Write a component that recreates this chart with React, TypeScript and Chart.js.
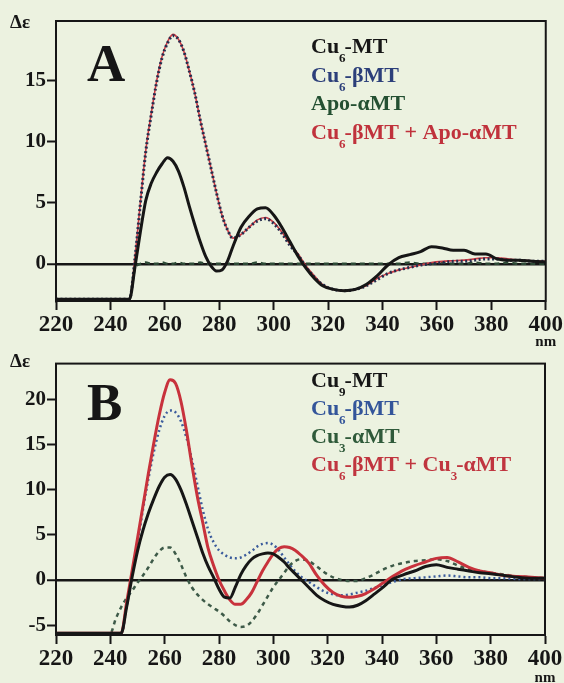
import React, { useEffect, useRef } from 'react';
import { Chart, registerables } from 'chart.js';

Chart.register(...registerables);

// ---------- Panel A data ----------
const WL_A = [220, 247, 249, 251, 253, 255, 257, 259, 261, 263, 265, 267, 269, 271, 273, 275, 277, 279, 281, 283, 285, 288, 291, 294, 297, 300, 303, 306, 309, 312, 315, 318, 322, 326, 330, 334, 338, 342, 346, 350, 354, 358, 362, 366, 370, 374, 378, 382, 386, 390, 395, 400];
const A_CU6_MT = [-2.9, -2.9, -0.3, 2.6, 5.2, 6.6, 7.5, 8.2, 8.7, 8.4, 7.6, 6.3, 4.7, 3.2, 1.8, 0.6, -0.2, -0.6, -0.5, 0.2, 1.4, 3.0, 3.9, 4.5, 4.6, 4.0, 3.0, 1.8, 0.6, -0.4, -1.2, -1.8, -2.1, -2.2, -2.1, -1.7, -1.0, -0.1, 0.5, 0.75, 1.0, 1.4, 1.3, 1.1, 1.1, 0.8, 0.8, 0.4, 0.3, 0.3, 0.2, 0.15];
const A_CU6_BETA = [-2.9, -2.9, 0.4, 4.9, 9.2, 12.2, 14.9, 16.9, 18.1, 18.7, 18.4, 17.4, 15.8, 14.0, 11.8, 9.8, 7.8, 5.8, 4.0, 2.8, 2.1, 2.4, 3.0, 3.5, 3.7, 3.3, 2.5, 1.5, 0.7, -0.3, -1.1, -1.7, -2.1, -2.2, -2.1, -1.8, -1.3, -0.8, -0.5, -0.3, -0.1, 0.0, 0.1, 0.2, 0.2, 0.3, 0.4, 0.4, 0.3, 0.3, 0.2, 0.2];
const A_APO_ALPHA = [-2.9, -2.9, -0.4, 0.0, 0.1, 0.0, 0.0, 0.1, 0.0, 0.0, 0.1, 0.0, 0.0, 0.0, 0.1, 0.0, 0.0, 0.0, 0.0, 0.0, 0.0, 0.0, 0.0, 0.1, 0.0, 0.0, 0.0, 0.0, 0.0, 0.0, 0.0, 0.0, 0.0, 0.0, 0.0, 0.0, 0.0, 0.0, 0.0, 0.1, 0.0, 0.0, 0.1, 0.0, 0.0, 0.1, 0.0, 0.0, 0.1, 0.0, 0.0, 0.0];
const A_SUM = [-2.9, -2.9, 0.5, 5.0, 9.3, 12.3, 15.0, 17.0, 18.2, 18.8, 18.4, 17.4, 15.8, 14.0, 11.8, 9.8, 7.8, 5.8, 4.0, 2.8, 2.1, 2.4, 3.0, 3.6, 3.8, 3.4, 2.6, 1.6, 0.8, -0.2, -1.0, -1.7, -2.1, -2.2, -2.1, -1.8, -1.2, -0.8, -0.5, -0.3, -0.1, 0.1, 0.2, 0.25, 0.3, 0.4, 0.5, 0.5, 0.4, 0.3, 0.25, 0.2];

// ---------- Panel B data ----------
const WL_B = [220, 240, 242, 244, 246, 248, 250, 252, 254, 256, 258, 260, 262, 264, 266, 268, 270, 272, 274, 276, 278, 280, 282, 284, 286, 288, 290, 292, 294, 296, 298, 300, 302, 304, 306, 308, 310, 313, 316, 319, 322, 325, 328, 331, 334, 337, 340, 344, 348, 352, 356, 360, 364, 368, 372, 376, 380, 385, 390, 395, 400];
const B_CU9_MT = [-5.9, -5.9, -5.9, -5.9, -3.0, 0.3, 3.2, 5.5, 7.4, 9.0, 10.4, 11.4, 11.7, 11.2, 10.0, 8.4, 6.6, 4.8, 3.0, 1.5, 0.3, -1.0, -1.9, -2.0, -0.8, 0.6, 1.6, 2.3, 2.7, 2.9, 3.0, 2.9, 2.5, 2.0, 1.3, 0.7, 0.1, -0.8, -1.7, -2.3, -2.7, -2.9, -3.0, -2.8, -2.3, -1.6, -0.9, 0.1, 0.6, 1.0, 1.5, 1.7, 1.4, 1.2, 1.0, 0.8, 0.7, 0.5, 0.3, 0.2, 0.2];
const B_CU6_BETA = [-5.9, -5.9, -5.9, -5.9, -3.0, 0.5, 4.0, 7.8, 11.2, 14.2, 16.6, 18.2, 18.8, 18.6, 17.6, 15.8, 13.4, 10.6, 7.8, 5.6, 4.2, 3.3, 2.8, 2.5, 2.4, 2.5, 2.8, 3.2, 3.7, 4.0, 4.1, 3.9, 3.3, 2.5, 1.7, 1.0, 0.4, -0.2, -0.8, -1.3, -1.6, -1.7, -1.6, -1.4, -1.2, -0.9, -0.6, -0.2, 0.1, 0.2, 0.3, 0.4, 0.5, 0.4, 0.3, 0.3, 0.2, 0.2, 0.1, 0.1, 0.1];
const B_CU3_ALPHA = [-5.9, -5.9, -4.3, -3.0, -2.0, -1.2, -0.3, 0.5, 1.4, 2.4, 3.2, 3.6, 3.6, 2.9, 1.7, 0.3, -0.8, -1.6, -2.2, -2.7, -3.1, -3.5, -4.0, -4.6, -5.0, -5.2, -5.1, -4.6, -3.8, -2.8, -1.8, -0.8, 0.0, 0.8, 1.6, 2.1, 2.3, 2.1, 1.5, 0.8, 0.3, 0.0, -0.1, -0.1, 0.2, 0.6, 1.1, 1.6, 1.9, 2.1, 2.2, 2.3, 2.1, 1.6, 1.2, 1.0, 0.8, 0.6, 0.4, 0.3, 0.2];
const B_SUM = [-5.9, -5.9, -5.9, -5.9, -2.5, 1.0, 4.6, 8.2, 11.8, 15.2, 18.3, 20.8, 22.2, 21.8, 19.8, 16.6, 12.8, 9.3, 6.4, 3.5, 1.6, 0.0, -1.2, -2.2, -2.7, -2.7, -2.2, -1.4, -0.2, 1.0, 2.0, 2.9, 3.5, 3.7, 3.6, 3.3, 2.8, 1.9, 0.5, -0.6, -1.4, -1.8, -1.9, -1.8, -1.5, -1.0, -0.4, 0.4, 1.1, 1.6, 2.0, 2.4, 2.5, 2.0, 1.4, 1.0, 0.8, 0.5, 0.4, 0.3, 0.2];

// ---------- axis ticks ----------
const X_TICKS = [220, 240, 260, 280, 300, 320, 340, 360, 380, 400];
const Y_TICKS_A = [0, 5, 10, 15];
const Y_TICKS_B = [-5, 0, 5, 10, 15, 20];

// ---------- legend text (segments; sub = subscript) ----------
type Seg = { t: string; sub?: boolean };
const LEGEND_A: Seg[][] = [
  [{ t: 'Cu' }, { t: '6', sub: true }, { t: '-MT' }],
  [{ t: 'Cu' }, { t: '6', sub: true }, { t: '-βMT' }],
  [{ t: 'Apo-αMT' }],
  [{ t: 'Cu' }, { t: '6', sub: true }, { t: '-βMT + Apo-αMT' }],
];
const LEGEND_B: Seg[][] = [
  [{ t: 'Cu' }, { t: '9', sub: true }, { t: '-MT' }],
  [{ t: 'Cu' }, { t: '6', sub: true }, { t: '-βMT' }],
  [{ t: 'Cu' }, { t: '3', sub: true }, { t: '-αMT' }],
  [{ t: 'Cu' }, { t: '6', sub: true }, { t: '-βMT + Cu' }, { t: '3', sub: true }, { t: '-αMT' }],
];

const FONT = "'Liberation Serif', 'Times New Roman', serif";
const BLACK = '#161616';

function pts(xs: number[], ys: number[]) {
  return xs.map((x, i) => ({ x, y: ys[i] }));
}

function drawRich(ctx: CanvasRenderingContext2D, segs: Seg[], x: number, y: number, size: number, color: string) {
  let cx = x;
  ctx.fillStyle = color;
  ctx.textBaseline = 'alphabetic';
  ctx.textAlign = 'left';
  for (const s of segs) {
    const fs = s.sub ? Math.round(size * 0.6) : size;
    ctx.font = `bold ${fs}px ${FONT}`;
    ctx.fillText(s.t, cx, s.sub ? y + size * 0.42 : y);
    cx += ctx.measureText(s.t).width - (s.sub ? 1 : 0);
  }
}

type PanelCfg = {
  letter: string;
  legend: Seg[][];
  legendColors: string[];
  legendX: number;
  legendY: number[];
  letterY: number;
  deltaY: number;
  nmY: number;
  yMin: number;
  yMax: number;
  yTicks: number[];
  padTop: number;
  padRight: number;
  xHeight: number;
  datasets: any[];
};

function makeConfig(p: PanelCfg): any {
  const textPlugin = {
    id: 'panelText' + p.letter,
    afterDraw(chart: any) {
      const ctx = chart.ctx as CanvasRenderingContext2D;
      const a = chart.chartArea;
      ctx.save();
      // frame
      ctx.strokeStyle = BLACK;
      ctx.lineWidth = 2;
      ctx.strokeRect(a.left, a.top, a.right - a.left, a.bottom - a.top);
      // Δε label
      ctx.fillStyle = BLACK;
      ctx.font = `bold 19px ${FONT}`;
      ctx.textAlign = 'left';
      ctx.textBaseline = 'alphabetic';
      ctx.fillText('Δε', 10, p.deltaY);
      // nm label
      ctx.font = `bold 15px ${FONT}`;
      ctx.textAlign = 'center';
      ctx.fillText('nm', a.right, p.nmY);
      // panel letter
      ctx.textAlign = 'left';
      ctx.font = `bold 53px ${FONT}`;
      ctx.fillText(p.letter, 87, p.letterY);
      // legend
      p.legend.forEach((segs, i) => drawRich(ctx, segs, p.legendX, p.legendY[i], 22, p.legendColors[i]));
      ctx.restore();
    },
  };

  return {
    type: 'line',
    data: { datasets: p.datasets },
    plugins: [textPlugin],
    options: {
      animation: false,
      responsive: false,
      maintainAspectRatio: false,
      layout: { padding: { top: p.padTop, right: p.padRight, left: 0, bottom: 0 } },
      plugins: { legend: { display: false }, tooltip: { enabled: false }, title: { display: false } },
      elements: {
        point: { radius: 0 },
        line: { cubicInterpolationMode: 'monotone', borderJoinStyle: 'round', borderCapStyle: 'butt' },
      },
      scales: {
        x: {
          type: 'linear',
          min: 220,
          max: 400,
          afterFit: (s: any) => { s.height = p.xHeight; },
          afterBuildTicks: (s: any) => { s.ticks = X_TICKS.map((v) => ({ value: v })); },
          border: { display: true, color: BLACK, width: 2 },
          grid: { drawOnChartArea: false, drawTicks: true, tickLength: 9, tickColor: BLACK, tickWidth: 2, color: BLACK },
          ticks: { color: BLACK, padding: 1, maxRotation: 0, autoSkip: false, font: { family: FONT, size: 23, weight: 'bold' } },
        },
        y: {
          type: 'linear',
          min: p.yMin,
          max: p.yMax,
          afterFit: (s: any) => { s.width = 56; },
          afterBuildTicks: (s: any) => { s.ticks = p.yTicks.map((v) => ({ value: v })); },
          border: { display: true, color: BLACK, width: 2 },
          grid: {
            drawOnChartArea: true,
            drawTicks: true,
            tickLength: 9,
            tickColor: BLACK,
            tickWidth: 2,
            color: (c: any) => (c.tick && c.tick.value === 0 ? BLACK : 'rgba(0,0,0,0)'),
            lineWidth: (c: any) => (c.tick && c.tick.value === 0 ? 2.5 : 1),
          },
          ticks: { color: BLACK, padding: 1, autoSkip: false, font: { family: FONT, size: 21, weight: 'bold' } },
        },
      },
    },
  };
}

const panelA: PanelCfg = {
  letter: 'A',
  legend: LEGEND_A,
  legendColors: [BLACK, '#2c3f7a', '#245032', '#c0323c'],
  legendX: 311,
  legendY: [53, 82, 110, 139],
  letterY: 81,
  deltaY: 28,
  nmY: 346,
  yMin: -3.05,
  yMax: 19.9,
  yTicks: Y_TICKS_A,
  padTop: 21,
  padRight: 18,
  xHeight: 49,
  datasets: [
    { label: 'Cu6-MT', data: pts(WL_A, A_CU6_MT), borderColor: BLACK, borderWidth: 3, order: 1 },
    { label: 'Cu6-βMT', data: pts(WL_A, A_CU6_BETA), borderColor: '#262d4e', borderWidth: 3, borderDash: [2, 2.5], order: 2 },
    { label: 'Apo-αMT', data: pts(WL_A, A_APO_ALPHA), borderColor: '#2d4a36', borderWidth: 2.5, borderDash: [5, 4], order: 4 },
    { label: 'Cu6-βMT + Apo-αMT', data: pts(WL_A, A_SUM), borderColor: '#cc3a44', borderWidth: 1.6, order: 3 },
  ],
};

const panelB: PanelCfg = {
  letter: 'B',
  legend: LEGEND_B,
  legendColors: [BLACK, '#33559a', '#2f5a3a', '#c0353f'],
  legendX: 311,
  legendY: [37, 65, 93, 121],
  letterY: 70,
  deltaY: 17,
  nmY: 332,
  yMin: -6.1,
  yMax: 24,
  yTicks: Y_TICKS_B,
  padTop: 8,
  padRight: 19,
  xHeight: 48,
  datasets: [
    { label: 'Cu9-MT', data: pts(WL_B, B_CU9_MT), borderColor: BLACK, borderWidth: 3, order: 1 },
    { label: 'Cu6-βMT', data: pts(WL_B, B_CU6_BETA), borderColor: '#3b5c9c', borderWidth: 2.5, borderDash: [2, 3], order: 3 },
    { label: 'Cu3-αMT', data: pts(WL_B, B_CU3_ALPHA), borderColor: '#3d5a48', borderWidth: 2.5, borderDash: [4, 4], order: 4 },
    { label: 'Cu6-βMT + Cu3-αMT', data: pts(WL_B, B_SUM), borderColor: '#c8323c', borderWidth: 3, order: 2 },
  ],
};

function Panel({ cfg, top, height }: { cfg: PanelCfg; top: number; height: number }) {
  const ref = useRef<HTMLCanvasElement | null>(null);
  useEffect(() => {
    if (!ref.current) return;
    const chart = new Chart(ref.current, makeConfig(cfg));
    return () => chart.destroy();
  }, [cfg]);
  return (
    <canvas
      ref={ref}
      width={564}
      height={height}
      style={{ position: 'absolute', left: 0, top, width: 564, height }}
    />
  );
}

export default function App() {
  return (
    <div
      style={{
        position: 'fixed',
        left: 0,
        top: 0,
        width: 564,
        height: 683,
        background: '#ecf2e0',
        overflow: 'hidden',
      }}
    >
      <Panel cfg={panelA} top={0} height={350} />
      <Panel cfg={panelB} top={350} height={333} />
    </div>
  );
}
